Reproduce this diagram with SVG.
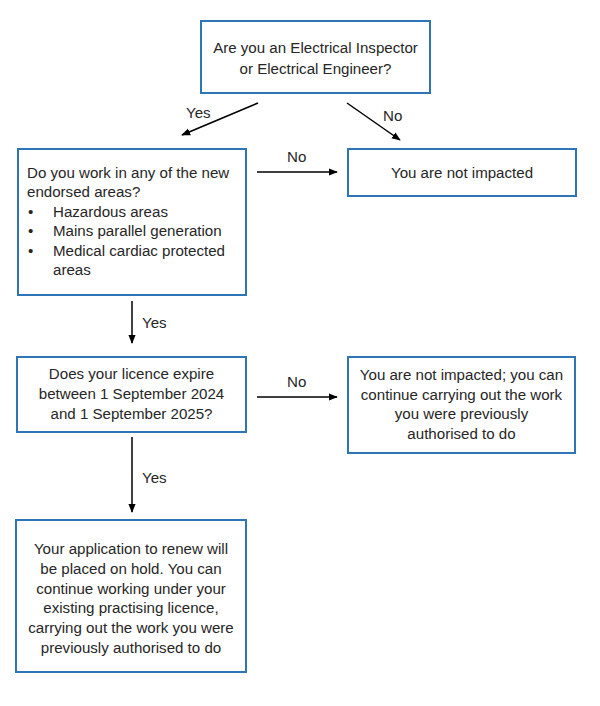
<svg xmlns="http://www.w3.org/2000/svg" width="600" height="706" viewBox="0 0 600 706">
<style>
.box{fill:#fff;stroke:#2E75B6;stroke-width:2}
text{font-family:"Liberation Sans",Arial,sans-serif;font-size:15.1px;fill:#262626}
.c{text-anchor:middle}
.conn line{stroke:#000;stroke-width:1.5;marker-end:url(#ah)}
</style>
<defs>
<marker id="ah" viewBox="0 0 10 10" refX="9" refY="5" markerWidth="6" markerHeight="6" markerUnits="strokeWidth" orient="auto">
<path d="M0,1 L10,5 L0,9 z" fill="#000"/>
</marker>
</defs>
<rect width="600" height="706" fill="#fff"/>
<g id="q1">
<rect class="box" x="201" y="21" width="229" height="72"/>
<text class="c" x="315.5" y="53">Are you an Electrical Inspector</text>
<text class="c" x="315.5" y="74">or Electrical Engineer?</text>
</g>
<g id="q2">
<rect class="box" x="18" y="149" width="228" height="146"/>
<text x="27" y="178">Do you work in any of the new</text>
<text x="27" y="197">endorsed areas?</text>
<text x="28" y="217">•</text><text x="53" y="217">Hazardous areas</text>
<text x="28" y="236">•</text><text x="53" y="236">Mains parallel generation</text>
<text x="28" y="256">•</text><text x="53" y="256">Medical cardiac protected</text>
<text x="53" y="275">areas</text>
</g>
<g id="r1">
<rect class="box" x="348" y="149" width="228" height="47"/>
<text class="c" x="462" y="178">You are not impacted</text>
</g>
<g id="q3">
<rect class="box" x="17" y="357" width="229" height="75"/>
<text class="c" x="131.5" y="379">Does your licence expire</text>
<text class="c" x="131.5" y="399">between 1 September 2024</text>
<text class="c" x="131.5" y="419">and 1 September 2025?</text>
</g>
<g id="r2">
<rect class="box" x="348" y="357" width="227" height="96"/>
<text class="c" x="461.5" y="380">You are not impacted; you can</text>
<text class="c" x="461.5" y="400">continue carrying out the work</text>
<text class="c" x="461.5" y="419">you were previously</text>
<text class="c" x="461.5" y="439">authorised to do</text>
</g>
<g id="r3">
<rect class="box" x="16" y="520" width="230" height="152"/>
<text class="c" x="131" y="554">Your application to renew will</text>
<text class="c" x="131" y="574">be placed on hold. You can</text>
<text class="c" x="131" y="594">continue working under your</text>
<text class="c" x="131" y="613">existing practising licence,</text>
<text class="c" x="131" y="633">carrying out the work you were</text>
<text class="c" x="131" y="653">previously authorised to do</text>
</g>
<g class="conn" id="connectors">
<line x1="258" y1="103" x2="182" y2="135"/>
<line x1="347" y1="103" x2="400" y2="140"/>
<line x1="257" y1="172" x2="337" y2="172"/>
<line x1="132" y1="301" x2="132" y2="343"/>
<line x1="257" y1="397" x2="337" y2="397"/>
<line x1="132" y1="437" x2="132" y2="512"/>
<text x="186" y="118">Yes</text>
<text x="383" y="121">No</text>
<text x="287" y="162">No</text>
<text x="142" y="328">Yes</text>
<text x="287" y="387">No</text>
<text x="142" y="483">Yes</text>
</g>
</svg>
